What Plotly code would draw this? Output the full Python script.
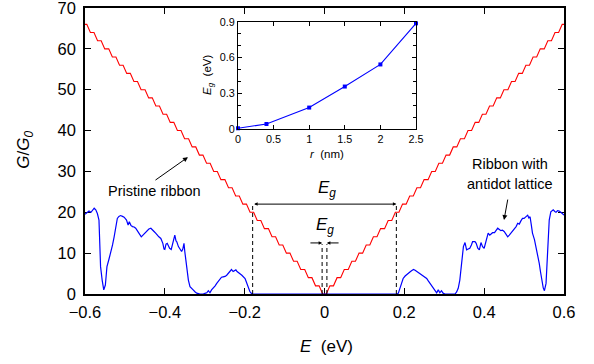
import plotly.graph_objects as go

# ---- data ----
# Pristine ribbon: step edges (eV, positive side) and conductance levels
step_edges = [0.009, 0.027, 0.045, 0.064, 0.082, 0.100, 0.118, 0.136, 0.155, 0.173,
              0.191, 0.209, 0.227, 0.245, 0.264, 0.282, 0.300, 0.318, 0.336, 0.355,
              0.373, 0.391, 0.409, 0.427, 0.445, 0.464, 0.482, 0.500, 0.518, 0.536,
              0.555, 0.573, 0.591]
step_levels = [2, 4, 6, 8, 10, 12, 14, 16, 18, 20, 22, 24, 26, 28, 30, 32, 34, 36, 38, 40,
               42, 44, 46, 48, 50, 52, 54, 56, 58, 60, 62, 64, 66]

# Ribbon with antidot lattice
E_anti = [-0.600, -0.595, -0.590, -0.585, -0.580, -0.577, -0.573, -0.569, -0.565, -0.563,
          -0.561, -0.557, -0.553, -0.549, -0.545, -0.540, -0.536, -0.531, -0.527, -0.523,
          -0.519, -0.515, -0.511, -0.506, -0.502, -0.496, -0.492, -0.489, -0.485, -0.481,
          -0.477, -0.473, -0.469, -0.465, -0.459, -0.455, -0.452, -0.448, -0.444, -0.440,
          -0.435, -0.431, -0.427, -0.423, -0.419, -0.415, -0.410, -0.407, -0.405, -0.402,
          -0.400, -0.397, -0.394, -0.392, -0.388, -0.384, -0.381, -0.379, -0.375, -0.372,
          -0.370, -0.366, -0.362, -0.358, -0.355, -0.352, -0.350, -0.348, -0.345, -0.341,
          -0.337, -0.333, -0.329, -0.324, -0.320, -0.312, -0.304, -0.298, -0.295, -0.291,
          -0.287, -0.283, -0.279, -0.274, -0.270, -0.266, -0.262, -0.258, -0.254, -0.249,
          -0.245, -0.241, -0.237, -0.233, -0.229, -0.225, -0.222, -0.219, -0.216, -0.211,
          -0.207, -0.203, -0.199, -0.196, -0.193, -0.190, -0.187, -0.182,
          0.182, 0.185, 0.189, 0.193, 0.197, 0.202, 0.206, 0.210, 0.214, 0.218,
          0.223, 0.227, 0.231, 0.235, 0.239, 0.243, 0.247, 0.251, 0.256, 0.260,
          0.264, 0.268, 0.272, 0.277, 0.281, 0.285, 0.289, 0.293, 0.297, 0.302,
          0.327, 0.331, 0.335, 0.339, 0.344, 0.348, 0.352, 0.356, 0.360, 0.364,
          0.368, 0.371, 0.377, 0.380, 0.384, 0.388, 0.392, 0.396, 0.400, 0.405,
          0.410, 0.414, 0.417, 0.421, 0.426, 0.430, 0.434, 0.438, 0.442, 0.446,
          0.450, 0.455, 0.459, 0.463, 0.467, 0.471, 0.476, 0.480, 0.484, 0.488,
          0.492, 0.496, 0.500, 0.505, 0.509, 0.512, 0.515, 0.518, 0.521, 0.526,
          0.530, 0.534, 0.538, 0.541, 0.545, 0.548, 0.551, 0.555, 0.557, 0.559,
          0.561, 0.563, 0.567, 0.570, 0.573, 0.577, 0.580, 0.584, 0.588, 0.592,
          0.595, 0.600]
G_anti = [19.5, 19.9, 20.3, 20.0, 20.8, 21.0, 20.6, 19.7, 18.1, 13.0,
          6.7, 3.4, 1.0, 2.2, 6.7, 8.5, 9.8, 12.0, 14.0, 16.5,
          18.5, 19.0, 19.2, 19.0, 18.8, 18.1, 16.9, 17.7, 16.8, 16.5,
          16.4, 16.1, 15.6, 14.9, 14.0, 14.4, 14.9, 15.2, 15.7, 15.9,
          16.1, 15.8, 15.3, 14.9, 14.4, 14.0, 13.6, 13.0, 12.4, 11.0,
          10.9, 12.2, 12.4, 12.0, 11.2, 10.9, 12.0, 13.2, 14.4, 13.0,
          12.8, 11.6, 11.0, 10.4, 11.0, 12.4, 10.4, 8.5, 6.7, 3.4,
          1.8, 1.3, 1.0, 0.5, 0.2, 0.0, 0.0, 0.2, 0.3, 0.8,
          0.3, 1.0, 1.4, 2.0, 2.6, 3.2, 3.8, 4.1, 4.2, 4.3,
          4.6, 5.0, 5.5, 6.0, 5.5, 5.8, 5.9, 5.5, 5.2, 4.9,
          4.6, 4.2, 3.8, 3.0, 2.2, 1.3, 0.6, 0.0,
          0.0, 0.2, 1.5, 3.0, 3.8, 4.4, 4.8, 5.1, 5.4, 5.7,
          6.0, 5.8, 5.5, 5.3, 5.1, 4.8, 4.4, 4.1, 3.8, 3.2,
          2.6, 2.0, 1.4, 0.8, 0.3, 1.0, 0.3, 0.8, 0.2, 0.0,
          0.0, 0.5, 1.4, 3.4, 8.3, 11.6, 12.6, 10.8, 11.0, 11.2,
          12.0, 12.8, 12.8, 12.4, 11.2, 10.8, 12.6, 11.6, 11.2, 13.2,
          14.9, 14.4, 14.6, 15.0, 15.0, 15.5, 16.1, 15.8, 15.5, 15.6,
          15.3, 14.6, 14.0, 14.4, 14.9, 15.5, 16.1, 16.5, 17.3, 17.1,
          17.9, 18.5, 18.5, 18.9, 19.3, 18.6, 18.9, 17.0, 14.9, 13.3,
          11.6, 9.5, 7.5, 5.5, 3.0, 1.5, 0.8, 2.6, 6.5, 10.8,
          14.5, 18.1, 20.1, 20.3, 20.6, 20.2, 20.0, 20.4, 20.3, 20.0,
          19.7, 19.3]

# Inset: gap vs antidot radius
r_nm = [0, 0.4, 1.0, 1.5, 2.0, 2.5]
Eg_eV = [0.006, 0.042, 0.18, 0.357, 0.543, 0.889]

E_gap_big = 0.18
E_gap_small = 0.006

x_ticks = [-0.6, -0.4, -0.2, 0, 0.2, 0.4, 0.6]
y_ticks = [0, 10, 20, 30, 40, 50, 60, 70]
inset_x_ticks = [0, 0.5, 1, 1.5, 2, 2.5]
inset_y_ticks = [0, 0.3, 0.6, 0.9]

# ---- build pristine staircase from the step data (short sloped risers) ----
RISER = 0.0045  # half-width of each riser (drawing style)
E_pr, G_pr = [0.6], [step_levels[-1]]
edges_desc = list(reversed(step_edges))
levels_desc = list(reversed(step_levels))
for i, e in enumerate(edges_desc):
    lo = levels_desc[i + 1] if i + 1 < len(levels_desc) else 0
    E_pr += [e + RISER, e - RISER]
    G_pr += [levels_desc[i], lo]
E_pr = list(reversed(E_pr))
G_pr = list(reversed(G_pr))
E_neg = [-e for e in reversed(E_pr)]
G_neg = list(reversed(G_pr))
E_pr = E_neg + E_pr
G_pr = G_neg + G_pr

FONT = "Liberation Sans, Arial, sans-serif"

fig = go.Figure()
fig.add_trace(go.Scatter(x=E_pr, y=G_pr, mode="lines", line=dict(color="#ff0000", width=1.1),
                         cliponaxis=False, showlegend=False))
fig.add_trace(go.Scatter(x=E_anti, y=G_anti, mode="lines", line=dict(color="#0000ff", width=1.2),
                         cliponaxis=False, showlegend=False))
fig.add_trace(go.Scatter(x=r_nm, y=Eg_eV, mode="lines+markers", xaxis="x2", yaxis="y2",
                         line=dict(color="#0000ff", width=1.1),
                         marker=dict(color="#0000ff", size=4, symbol="square"),
                         cliponaxis=False, showlegend=False))

for e in (-E_gap_big, E_gap_big):
    fig.add_shape(type="line", x0=e, x1=e, y0=0, y1=22, xref="x", yref="y",
                  line=dict(color="black", width=1, dash="4px,3px"))
for e in (-E_gap_small, E_gap_small):
    fig.add_shape(type="line", x0=e, x1=e, y0=0, y1=12.2, xref="x", yref="y",
                  line=dict(color="black", width=1, dash="4px,3px"))

def txt(x, y, s, size, xref="paper", yref="paper", angle=0):
    return dict(x=x, y=y, xref=xref, yref=yref, text=s, showarrow=False, textangle=angle,
                xanchor="center", yanchor="middle",
                font=dict(family=FONT, size=size, color="black"))

ann = []
ann.append(dict(x=E_gap_big, y=22, ax=-E_gap_big, ay=22, xref="x", yref="y", axref="x", ayref="y",
                text="", showarrow=True, arrowhead=2, arrowsize=0.7, arrowwidth=1,
                arrowside="end+start", arrowcolor="black"))
ann.append(txt(0.005, 25.6, "<i>E<sub>g</sub></i>", 17, "x", "y"))
ann.append(dict(x=-E_gap_small, y=12.5, ax=-0.039, ay=12.5, xref="x", yref="y", axref="x", ayref="y",
                text="", showarrow=True, arrowhead=2, arrowsize=0.7, arrowwidth=1, arrowcolor="black"))
ann.append(dict(x=E_gap_small, y=12.5, ax=0.039, ay=12.5, xref="x", yref="y", axref="x", ayref="y",
                text="", showarrow=True, arrowhead=2, arrowsize=0.7, arrowwidth=1, arrowcolor="black"))
ann.append(txt(0.0, 16.6, "<i>E<sub>g</sub></i>", 17, "x", "y"))
ann.append(dict(x=-0.342, y=33.5, ax=-34, ay=24, xref="x", yref="y", text="", showarrow=True,
                arrowhead=2, arrowsize=1, arrowwidth=1, arrowcolor="black"))
ann.append(txt(0.146, 0.360, "Pristine ribbon", 14.5))
ann.append(dict(x=0.4497, y=18.1, ax=4, ay=-22, xref="x", yref="y", text="", showarrow=True,
                arrowhead=2, arrowsize=1, arrowwidth=1, arrowcolor="black"))
ann.append(txt(0.887, 0.4545, "Ribbon with", 14.5))
ann.append(txt(0.887, 0.3846, "antidot lattice", 14.5))
ann.append(txt(-0.124, 0.503, "<i>G</i>/<i>G</i><sub><i>0</i></sub>", 17, angle=-90))
ann.append(txt(0.505, -0.185, "<i>E</i>  (eV)", 17))
ann.append(txt(0.2568, 0.766, "<i>E<sub>g</sub></i>  (eV)", 11.5, angle=-90))
ann.append(txt(0.505, 0.4895, "<i>r</i>  (nm)", 11.5))

axis_common = dict(showline=True, linecolor="black", mirror="ticks", ticks="inside",
                   showgrid=False, zeroline=False, tickcolor="black", automargin=False,
                   ticklabeloverflow="allow")

fig.update_layout(
    width=594, height=364,
    margin=dict(l=85, r=30, t=8, b=70, autoexpand=False),
    paper_bgcolor="white", plot_bgcolor="white",
    font=dict(family=FONT, color="black"),
    annotations=ann,
    xaxis=dict(range=[-0.6, 0.6], tickvals=x_ticks, linewidth=1.5, ticklen=6, tickwidth=1,
               tickfont=dict(size=16.5), ticklabelstandoff=2, layer="below traces", **axis_common),
    yaxis=dict(range=[0, 70], tickvals=y_ticks, linewidth=1.5, ticklen=6, tickwidth=1,
               tickfont=dict(size=16.5), ticklabelstandoff=4, layer="below traces", **axis_common),
    xaxis2=dict(domain=[0.3194, 0.691], anchor="y2", range=[0, 2.5], tickvals=inset_x_ticks,
                linewidth=1.3, ticklen=4, tickwidth=1, tickfont=dict(size=10.8), **axis_common),
    yaxis2=dict(domain=[0.577, 0.951], anchor="x2", range=[0, 0.9], tickvals=inset_y_ticks,
                linewidth=1.3, ticklen=4, tickwidth=1, tickfont=dict(size=10.8),
                minor=dict(dtick=0.1, ticks="inside", ticklen=3, tickcolor="black"), **axis_common),
)

fig.write_html("out.html")
